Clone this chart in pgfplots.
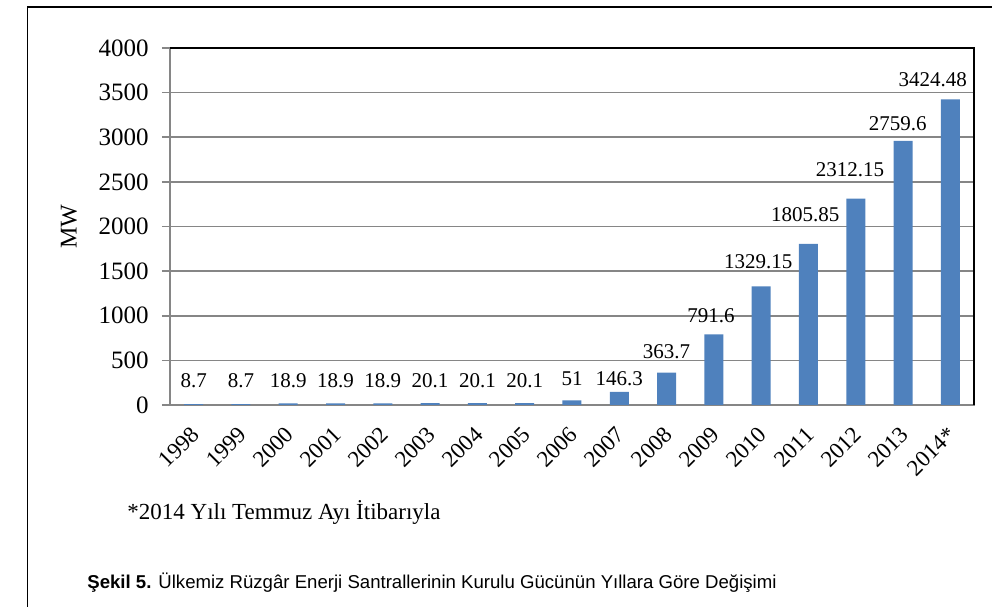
\documentclass[border=0pt]{standalone}
\usepackage{fontspec}
\setmainfont{Liberation Serif}
\setsansfont{Liberation Sans}
\usepackage{pgfplots}
\usepackage{pgfplotstable}
\pgfplotsset{compat=1.18}
\definecolor{barblue}{RGB}{79,129,189}
\definecolor{gridgray}{RGB}{134,134,134}

\pgfplotstableread{
x y
0 8.7
1 8.7
2 18.9
3 18.9
4 18.9
5 20.1
6 20.1
7 20.1
8 51
9 146.3
10 363.7
11 791.6
12 1329.15
13 1805.85
14 2312.15
15 2958
16 3424.48
}\bars

\pgfplotstableread{
x y label
0 269 8.7
1 269 8.7
2 269 18.9
3 269 18.9
4 269 18.9
5 269 20.1
6 269 20.1
7 269 20.1
8 300 51
9 297 146.3
10 594 363.7
10.94 997 791.6
11.94 1602 1329.15
12.93 2129 1805.85
13.88 2633 2312.15
14.89 3148 2759.6
15.63 3641 3424.48
}\labels

\begin{document}
\begin{tikzpicture}
\path[use as bounding box] (0,0) rectangle (496pt,303pt);
\draw[line width=0.8pt] (13.75pt,-5pt) -- (13.75pt,299.5pt) -- (510pt,299.5pt);
\begin{axis}[
  at={(85pt,100.5pt)}, anchor=south west,
  scale only axis, width=402pt, height=178.5pt,
  xmin=-0.5, xmax=16.5, ymin=0, ymax=4000,
  ytick={0,500,...,4000},
  xtick={0,...,16},
  xticklabels={\textrm{1998},\textrm{1999},\textrm{2000},\textrm{2001},\textrm{2002},\textrm{2003},\textrm{2004},\textrm{2005},\textrm{2006},\textrm{2007},\textrm{2008},\textrm{2009},\textrm{2010},\textrm{2011},\textrm{2012},\textrm{2013},\textrm{2014*}},
  yticklabel={\rmfamily\pgfmathprintnumber[assume math mode=true,1000 sep={}]{\tick}},
  axis line style={gridgray, line width=0.8pt},
  ymajorgrids, grid style={gridgray, line width=0.8pt},
  major tick length=4pt,
  ytick align=outside,
  ytick pos=left,
  xtick pos=bottom,
  x tick style={draw=none},
  y tick style={gridgray, line width=0.8pt},
  yticklabel style={font=\rmfamily\fontsize{12.5}{14}\selectfont, anchor=east, inner sep=0pt, xshift=-6.5pt},
  xticklabel style={font=\rmfamily\fontsize{11.5}{13}\selectfont, xshift=-2pt, yshift=-10pt, rotate=45, anchor=north east, inner sep=0pt},
  ylabel={MW},
  every axis y label/.style={at={(axis description cs:0,0.5)}, xshift=-50.5pt, rotate=90, anchor=center, font=\rmfamily\fontsize{12}{14}\selectfont},
  clip=false,
]
\addplot[ybar, bar width=9.5pt, fill=barblue, draw=none] table[x=x, y=y] {\bars};
\addplot[draw=none, mark=none, nodes near coords, point meta=explicit symbolic,
  nodes near coords style={anchor=center, inner sep=0pt, font=\rmfamily\fontsize{10.5}{12}\selectfont}]
  table[x=x, y=y, meta=label] {\labels};
\draw[black, line width=0.8pt] (rel axis cs:0,1) -- (rel axis cs:1,1) -- (rel axis cs:1,0);
\end{axis}
\node[anchor=base west, inner sep=0pt, font=\rmfamily\fontsize{11.5}{13}\selectfont] at (63.5pt,43pt) {*2014 Yılı Temmuz Ayı İtibarıyla};
\node[anchor=base west, inner sep=0pt, font=\sffamily\fontsize{9.3}{11}\selectfont] at (43.5pt,9pt) {\textbf{Şekil 5.} Ülkemiz Rüzgâr Enerji Santrallerinin Kurulu Gücünün Yıllara Göre Değişimi};
\end{tikzpicture}
\end{document}
